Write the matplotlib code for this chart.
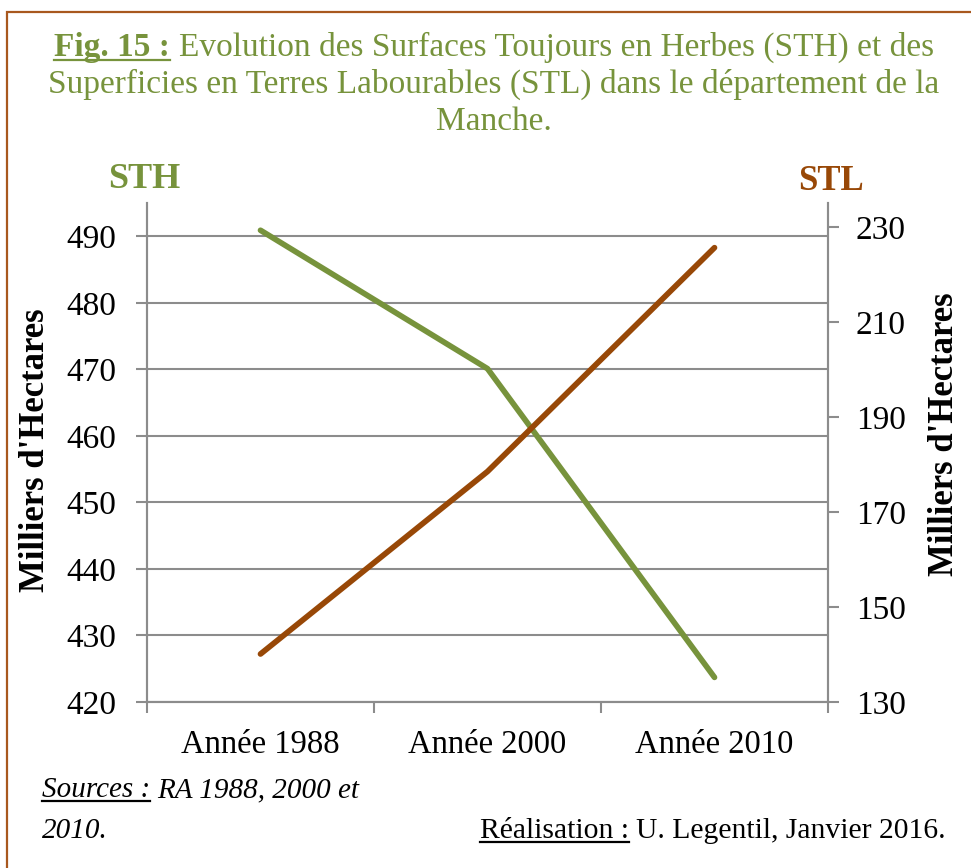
import matplotlib.pyplot as plt
from matplotlib.lines import Line2D
from matplotlib.patches import Rectangle

# data
years = ['Année 1988', 'Année 2000', 'Année 2010']
sth = [490.9, 470.1, 423.7]   # milliers d'hectares, left axis
stl = [140.1, 178.5, 225.6]   # milliers d'hectares, right axis
sth_ticks = [420, 430, 440, 450, 460, 470, 480, 490]
stl_ticks = [130, 150, 170, 190, 210, 230]

green = '#77933C'
brown = '#984807'
grey = '#8C8C8C'
W, H = 971, 868

plt.rcParams['font.family'] = ['Liberation Serif', 'DejaVu Serif']
fig = plt.figure(figsize=(W / 100, H / 100), dpi=100, facecolor='white')

ax = fig.add_axes([147 / W, 1 - 702 / H, 681 / W, 499 / H])
x = list(range(len(years)))
ax.plot(x, sth, color=green, lw=4.1, solid_capstyle='round', zorder=3)
ax.set_xlim(-0.5, 2.5)
ax.set_ylim(420, 495)
ax.set_yticks(sth_ticks)
ax.set_xticks([-0.5, 0.5, 1.5, 2.5])
ax.set_xticklabels([])
ax.set_xticks(x, minor=True)
ax.set_xticklabels(years, minor=True)
ax.tick_params(axis='x', which='minor', length=0, pad=20, labelsize=23.5)
ax.tick_params(axis='x', which='major', length=8, width=1.5, color=grey)
ax.tick_params(axis='y', length=8, width=1.5, color=grey, labelsize=24, pad=14)
ax.grid(axis='y', color=grey, lw=1.5)
ax.set_axisbelow(True)
for s in ['left', 'right', 'bottom']:
    ax.spines[s].set_color(grey)
    ax.spines[s].set_linewidth(1.5)
ax.spines['top'].set_visible(False)

ax2 = ax.twinx()
ax2.plot(x, stl, color=brown, lw=4.1, solid_capstyle='round', zorder=3)
ax2.set_ylim(130, 235)
ax2.set_yticks(stl_ticks)
ax2.tick_params(axis='y', length=8, width=1.5, color=grey, labelsize=24, pad=12)
for s in ['left', 'right', 'bottom']:
    ax2.spines[s].set_color(grey)
    ax2.spines[s].set_linewidth(1.5)
ax2.spines['top'].set_visible(False)

# axis titles
fig.text(35 / W, 1 - 450 / H, "Milliers d'Hectares", rotation=90, ha='center', va='center',
         fontsize=25, fontweight='bold')
fig.text(944 / W, 1 - 434 / H, "Milliers d'Hectares", rotation=90, ha='center', va='center',
         fontsize=25, fontweight='bold')
fig.text(144 / W, 1 - 180 / H, 'STH', ha='center', va='center', fontsize=26,
         fontweight='bold', color=green)
fig.text(831 / W, 1 - 182 / H, 'STL', ha='center', va='center', fontsize=25,
         fontweight='bold', color=brown)

renderer = fig.canvas.get_renderer()


def width(s, **kw):
    t = fig.text(0, 0, s, **kw)
    w = t.get_window_extent(renderer).width
    t.remove()
    return w


def put_row(pieces, y, x0=None, xc=None, size=20):
    # pieces: (text, underline, extra kwargs); y = baseline in image pixels
    objs = []
    for s, under, kw in pieces:
        t = fig.text(0, 1 - y / H, s, va='baseline', fontsize=size, **kw)
        objs.append((t, under, kw))
    gap = width('a a', fontsize=size) - width('aa', fontsize=size)
    widths = [t.get_window_extent(renderer).width for t, _, _ in objs]
    total = sum(widths) + gap * (len(objs) - 1)
    xx = x0 if x0 is not None else xc - total / 2
    for (t, under, kw), w in zip(objs, widths):
        t.set_x(xx / W)
        if under:
            fig.add_artist(Line2D([xx / W, (xx + w) / W], [1 - (y + 4) / H] * 2,
                                  color=kw.get('color', 'black'), lw=1.6))
        xx += w + gap


put_row([('Fig. 15 :', True, dict(color=green, fontweight='bold')),
         ('Evolution des Surfaces Toujours en Herbes (STH) et des', False, dict(color=green))],
        56, xc=494, size=24)
put_row([('Superficies en Terres Labourables (STL) dans le département de la', False,
          dict(color=green))], 93, xc=494, size=24)
put_row([('Manche.', False, dict(color=green))], 130, xc=494, size=24)

put_row([('Sources :', True, dict(style='italic')),
         ('RA 1988, 2000 et', False, dict(style='italic'))], 797, x0=42, size=21)
put_row([('2010.', False, dict(style='italic'))], 838, x0=42, size=21)
put_row([('Réalisation :', True, {}),
         ('U. Legentil, Janvier 2016.', False, {})], 838, x0=480, size=21.3)

fig.add_artist(Rectangle((7 / W, -0.1), 1.2, 1.1 - 12 / H, fill=False,
                         edgecolor='#A8581E', lw=1.6, transform=fig.transFigure))

fig.savefig('out.png', dpi=100, facecolor='white')
